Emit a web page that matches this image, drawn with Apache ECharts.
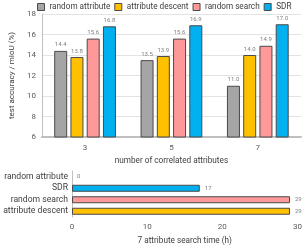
<!DOCTYPE html>
<html><head><meta charset="utf-8">
<script src="https://cdn.jsdelivr.net/npm/echarts@6/dist/echarts.min.js"></script>
<style>html,body{margin:0;padding:0;background:#fff}#c{width:305px;height:246px}</style>
</head><body><div id="c"></div>
<script>
const categories = ['3', '5', '7'];
const randomAttribute = [14.4, 13.5, 11.0];
const attributeDescent = [13.8, 13.9, 14.0];
const randomSearch = [15.6, 15.6, 14.9];
const sdr = [16.8, 16.9, 17.0];
const yTicks = {min: 6, max: 18, interval: 2};

const timeCategories = ['attribute descent', 'random search', 'SDR', 'random attribute'];
const timeValues = [29, 29, 17, 0];
const timeTicks = {min: 0, max: 30, interval: 10};

const colors = {gray: '#a5a5a5', yellow: '#ffc000', pink: '#ff9999', blue: '#00b0f0'};
const timeColors = [colors.yellow, colors.pink, colors.blue, colors.gray];

const FONT = 'Roboto';
const chart = echarts.init(document.getElementById('c'));
function barSeries(name, data, color) {
  return {
    name, type: 'bar', data, xAxisIndex: 0, yAxisIndex: 0,
    barWidth: 13, barGap: '25%',
    itemStyle: {color, borderColor: '#4a4a4a', borderWidth: 1},
    label: {show: true, position: 'top', distance: 3, fontSize: 6, color: '#7f7f7f', fontFamily: FONT,
      formatter: p => p.value.toFixed(1)}
  };
}
chart.setOption({
  animation: false,
  textStyle: {fontFamily: FONT},
  legend: {
    top: 1, left: 37, itemWidth: 7, itemHeight: 7, itemGap: 4, padding: [2, 0, 0, 0],
    textStyle: {fontSize: 8.2, color: '#404040', fontFamily: FONT},
    icon: 'rect',
    itemStyle: {borderColor: '#4a4a4a', borderWidth: 1},
    data: ['random attribute', 'attribute descent', 'random search', 'SDR']
  },
  grid: [
    {left: 31, right: 4, top: 14, height: 123},
    {left: 72, right: 5, top: 171, height: 46}
  ],
  xAxis: [
    {type: 'category', gridIndex: 0, data: categories,
      axisLine: {lineStyle: {color: '#bfbfbf', width: 2}}, axisTick: {show: false},
      axisLabel: {fontSize: 8, color: '#595959', margin: 7},
      name: 'number of correlated attributes', nameLocation: 'middle', nameGap: 20,
      nameTextStyle: {fontSize: 8.2, color: '#404040'}},
    {type: 'value', gridIndex: 1, min: timeTicks.min, max: timeTicks.max, interval: timeTicks.interval,
      axisLine: {show: false}, axisTick: {show: false}, splitLine: {show: false},
      axisLabel: {fontSize: 8, color: '#595959', margin: 6},
      name: '7 attribute search time (h)', nameLocation: 'middle', nameGap: 20,
      nameTextStyle: {fontSize: 8.2, color: '#404040'}},
  ],
  yAxis: [
    {type: 'value', gridIndex: 0, min: yTicks.min, max: yTicks.max, interval: yTicks.interval,
      axisLine: {show: true, lineStyle: {color: '#bfbfbf'}}, axisTick: {show: false},
      splitLine: {lineStyle: {color: '#e3e3e3'}},
      axisLabel: {fontSize: 8, color: '#595959', margin: 6},
      name: 'test accuracy / mIoU (%)', nameLocation: 'middle', nameGap: 21,
      nameTextStyle: {fontSize: 8, color: '#404040'}},
    {type: 'category', gridIndex: 1, data: timeCategories,
      axisLine: {show: true, lineStyle: {color: '#bfbfbf'}}, axisTick: {show: false},
      axisLabel: {interval: 0, fontSize: 8.6, color: '#404040', margin: 4}}
  ],
  series: [
    barSeries('random attribute', randomAttribute, colors.gray),
    barSeries('attribute descent', attributeDescent, colors.yellow),
    barSeries('random search', randomSearch, colors.pink),
    barSeries('SDR', sdr, colors.blue),
    {type: 'bar', xAxisIndex: 1, yAxisIndex: 1, barWidth: 7,
      data: timeValues.map((v, i) => ({value: v,
        itemStyle: {color: timeColors[i], borderColor: '#4a4a4a', borderWidth: v > 0 ? 1 : 0}})),
      label: {show: true, position: 'right', distance: 5, fontSize: 6, color: '#7f7f7f'}}
  ]
});
</script></body></html>
